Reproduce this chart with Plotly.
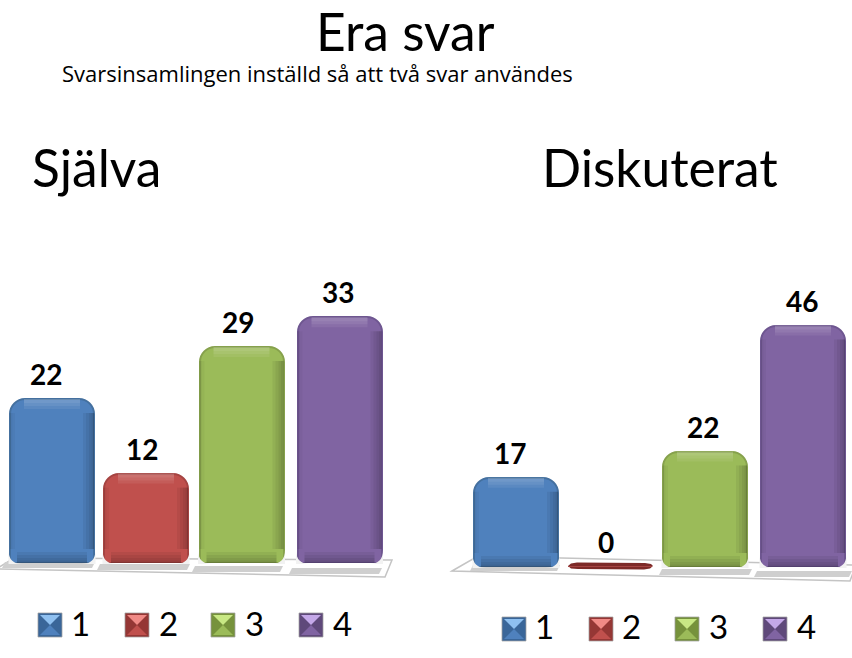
import plotly.graph_objects as go

W, H = 852, 658

# ---- data ----
categories = [1, 2, 3, 4]
sjalva_values = [22, 12, 29, 33]
diskuterat_values = [17, 0, 22, 46]
category_labels = ["1", "2", "3", "4"]
title_text = "Era svar"
subtitle_text = "Svarsinsamlingen inställd så att två svar användes"
left_title = "Själva"
right_title = "Diskuterat"

colors = ["#4f81bd", "#c0504d", "#9bbb59", "#8064a2"]
edges = ["#44709f", "#a54442", "#86a14c", "#6e5690"]
lights = ["#8fc0f0", "#f08a86", "#c8e884", "#c4a8e8"]
swatch_dark = ["#3a6699", "#953735", "#76923c", "#5f497a"]


def px(x):
    return x / W


def py(y):
    return 1 - y / H


BAR_W = 84 / 96
base_left, base_right = 563, 567
top_left, top_right = 250, 250
scale_left, scale_right = 7.45, 5.25
# small perspective nudges of the bars and their labels, in pixels
nudge_left, nudge_right = [0, -2, -2.5, -0.5], [0, -2, -3, -1]
label_left, label_right = [-6, -6, -6, -2], [-6, -6, -5, -2]

fig = go.Figure()
for vals, xa, ya, nudge in [(sjalva_values, "x", "y", nudge_left),
                            (diskuterat_values, "x2", "y2", nudge_right)]:
    fig.add_trace(go.Bar(
        x=categories, y=vals, xaxis=xa, yaxis=ya, width=BAR_W,
        offset=[-BAR_W / 2 + n / 96 for n in nudge],
        marker=dict(color=colors, line=dict(color=edges, width=2), cornerradius=15),
        showlegend=False, hoverinfo="x+y",
    ))

layout_axes = dict(showgrid=False, zeroline=False, showticklabels=False, showline=False, ticks="")
fig.update_layout(
    width=W, height=H, margin=dict(l=0, r=0, t=0, b=0),
    paper_bgcolor="white", plot_bgcolor="rgba(0,0,0,0)", bargap=0, showlegend=False,
    xaxis=dict(domain=[0, px(392)], range=[1 - 52 / 96, 1 + (392 - 52) / 96], **layout_axes),
    yaxis=dict(domain=[py(base_left), py(top_left)],
               range=[0, (base_left - top_left) / scale_left], **layout_axes),
    xaxis2=dict(domain=[px(452), 1], range=[1 - 64 / 96, 1 + (852 - 516) / 96], **layout_axes),
    yaxis2=dict(domain=[py(base_right), py(top_right)],
                range=[0, (base_right - top_right) / scale_right], **layout_axes),
)

shapes = []


def poly(points, fill, line=None, lw=1, layer="below"):
    path = "M " + " L ".join(f"{px(a):.5f},{py(b):.5f}" for a, b in points) + " Z"
    shapes.append(dict(type="path", xref="paper", yref="paper", path=path, fillcolor=fill,
                       line=dict(color=line or "rgba(0,0,0,0)", width=lw), layer=layer))


# floors
poly([(-4, 569), (14, 558), (392, 560), (385, 577)], "#ffffff", "#c4c4c4", 1.5)
poly([(452, 571), (478, 556), (856, 565), (850, 581)], "#ffffff", "#c4c4c4", 1.5)
# floor shadows
for a, b, c in [(5, 95, 562), (100, 190, 564), (195, 283, 566), (292, 382, 568)]:
    poly([(a, c), (b, c), (b - 3, c + 6), (a - 3, c + 6)], "#cfcfcf")
for a, b, c in [(473, 560, 565), (662, 752, 569), (757, 852, 571)]:
    poly([(a, c), (b, c), (b - 3, c + 6), (a - 3, c + 6)], "#cfcfcf")
# flat bar for the zero value
poly([(568, 566), (571, 563.5), (577, 562.5), (645, 563), (651, 564), (653, 566),
      (650, 568.5), (644, 569.5), (578, 569), (571, 568.5)], "#7d2a28")

# bevel shading and rounded lower corners of the bars
R = 14
for vals, xa, ya, base, scale, nudge in [
    (sjalva_values, "x", "y", base_left, scale_left, nudge_left),
    (diskuterat_values, "x2", "y2", base_right, scale_right, nudge_right),
]:
    for cat, v, n in zip(categories, vals, nudge):
        if v == 0:
            continue
        half = BAR_W / 2
        u = 1 / 96
        vp = 1 / scale
        mid = cat + n * u
        bands = []
        for w in (11, 8, 5, 2.5):
            bands.append((mid + half - w * u, mid + half, R * vp, v - R * vp, "rgba(0,0,0,0.055)"))
        for w in (5, 2.5):
            bands.append((mid - half, mid - half + w * u, R * vp, v - R * vp, "rgba(0,0,0,0.035)"))
        for w in (10, 7, 4):
            bands.append((mid - half + R * u, mid + half - R * u, v - w * vp, v,
                          "rgba(255,255,255,0.07)"))
        for w in (11, 8, 5, 2.5):
            bands.append((mid - half + 7 * u, mid + half - 7 * u, 0, w * vp, "rgba(0,0,0,0.06)"))
        for x0, x1, y0, y1, c in bands:
            shapes.append(dict(type="rect", xref=xa, yref=ya, x0=x0, x1=x1, y0=y0, y1=y1,
                               fillcolor=c, line=dict(width=0), layer="above"))
        dx = R * u
        yb, yt = py(base + 1), py(base + 1 - R)
        for sign in (-1, 1):
            xo = mid + sign * (half + 1.5 * u)
            xi = xo - sign * dx
            shapes.append(dict(type="path", xref=xa, yref="paper", layer="above",
                               path=f"M {xo},{yt} Q {xo},{yb} {xi},{yb} L {xo},{yb} Z",
                               fillcolor="#f2f2f2", line=dict(width=0)))


# legend swatches
def swatch(x0, y0, i, s=24):
    x1, y1 = x0 + s, y0 + s
    cx, cy = x0 + s / 2, y0 + s / 2
    poly([(x0, y0), (x1, y0), (x1, y1), (x0, y1)], swatch_dark[i], "#a0a0a0", 0.75, "above")
    poly([(x0 + 2, y0 + 2), (x1 - 2, y0 + 2), (cx, cy)], lights[i], layer="above")
    poly([(x0 + 2, y1 - 2), (x1 - 2, y1 - 2), (cx, cy)], colors[i], layer="above")


annotations = []


def text(x, y, s, size, family="Lato"):
    annotations.append(dict(
        x=px(x), y=py(y), xref="paper", yref="paper", text=s,
        showarrow=False, xanchor="left", yanchor="middle",
        font=dict(family=family, size=size, color="black"),
    ))


for i, (sx, tx) in enumerate(zip([38, 125, 211, 299], [69, 157, 243, 331])):
    swatch(sx, 613, i)
    text(tx, 623, category_labels[i], 33)
for i, (sx, tx) in enumerate(zip([502, 589, 675, 763], [533, 620, 707, 795])):
    swatch(sx, 617, i)
    text(tx, 626, category_labels[i], 33)

text(314, 31, title_text, 51.5)
text(60, 73, subtitle_text, 22, family="Open Sans")
text(30, 167, left_title, 51.5)
text(540, 167, right_title, 51.5)

# value labels, positioned from the data
for vals, xa, ya, shifts in [(sjalva_values, "x", "y", label_left),
                             (diskuterat_values, "x2", "y2", label_right)]:
    for cat, v, s in zip(categories, vals, shifts):
        annotations.append(dict(
            x=cat, y=v, xref=xa, yref=ya, text=f"<b>{v}</b>", showarrow=False,
            xanchor="center", yanchor="middle", yshift=25, xshift=s,
            font=dict(family="Lato", size=28, color="black"),
        ))

fig.update_layout(shapes=shapes, annotations=annotations)
fig.write_html("out.html", post_script="document.body.style.margin='0';",
               config={"displayModeBar": False})
